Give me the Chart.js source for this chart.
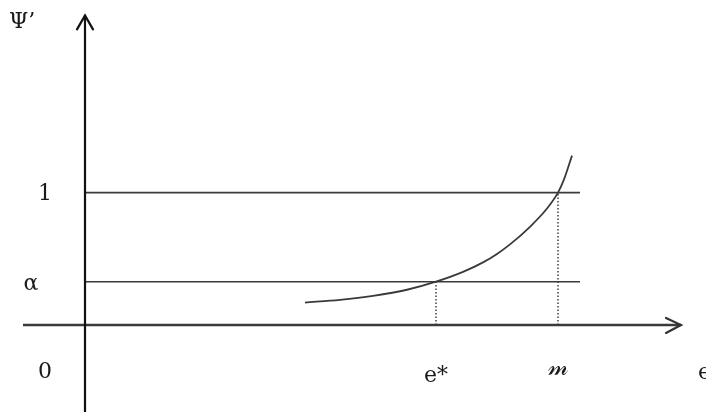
<!DOCTYPE html>
<html>
<head>
<meta charset="utf-8">
<script src="https://cdn.jsdelivr.net/npm/chart.js@4"></script>
<style>
html,body{margin:0;padding:0;background:#fff;}
#wrap{width:706px;height:412px;position:relative;}
</style>
</head>
<body>
<div id="wrap"><canvas id="c" width="706" height="412"></canvas></div>
<script>
// ---- data ----
const alphaLevel = 0.327;          // value of α on the ψ' axis
const oneLevel = 1;                // value 1 on the ψ' axis
const eStar = 3.51;                // e*
const mBar = 4.73;                 // 𝓂
const curveX = [2.20, 2.55, 2.88, 3.22, 3.51, 3.78, 3.98, 4.12, 4.25, 4.45, 4.62, 4.73, 4.79, 4.87];
const curveY = [0.169, 0.190, 0.220, 0.266, 0.327, 0.401, 0.473, 0.537, 0.609, 0.742, 0.880, 1.000, 1.100, 1.280];
const yTickLabels = ['0', 'α', '1'];
const xTickLabels = ['e*', '𝓂'];
const yAxisTitle = 'Ψ’';
const xAxisTitle = 'e';
const hLineEnd = 4.95;

const curve = curveX.map((x, i) => ({x, y: curveY[i]}));

const base = {showLine: true, pointRadius: 0, pointHoverRadius: 0, fill: false, tension: 0};

const labelsPlugin = {
  id: 'labels',
  afterDatasetsDraw(chart) {
    const {ctx, scales: {x, y}} = chart;
    const x0 = x.getPixelForValue(0), y0 = y.getPixelForValue(0);
    ctx.save();
    // arrowheads
    ctx.strokeStyle = '#111';
    ctx.lineWidth = 2.2;
    ctx.lineCap = 'round';
    const yTop = y.getPixelForValue(2.34);
    ctx.beginPath();
    ctx.moveTo(x0 - 8, yTop + 14); ctx.lineTo(x0, yTop); ctx.lineTo(x0 + 8, yTop + 14);
    ctx.stroke();
    ctx.strokeStyle = '#333';
    const xRight = x.getPixelForValue(5.96);
    ctx.beginPath();
    ctx.moveTo(xRight - 15, y0 - 7); ctx.lineTo(xRight, y0); ctx.lineTo(xRight - 15, y0 + 8);
    ctx.stroke();

    // text
    ctx.fillStyle = '#1a1a1a';
    ctx.font = '22px "DejaVu Serif"';
    ctx.textAlign = 'center';
    ctx.textBaseline = 'middle';
    ctx.fillText(yTickLabels[2], 45, y.getPixelForValue(oneLevel) + 2);
    ctx.fillText(yTickLabels[1], 31, y.getPixelForValue(alphaLevel) + 3);
    ctx.fillText(yTickLabels[0], 45, y0 + 47);
    ctx.fillText(xTickLabels[0], x.getPixelForValue(eStar), y0 + 51);
    ctx.font = '24px "DejaVu Serif"';
    ctx.fillText(xTickLabels[1], x.getPixelForValue(mBar), y0 + 44);
    ctx.font = '22px "DejaVu Serif"';
    ctx.textAlign = 'left';
    ctx.fillText(xAxisTitle, 698, y0 + 48);
    ctx.fillText(yAxisTitle, 9, 22);
    ctx.restore();
  }
};

new Chart(document.getElementById('c'), {
  type: 'scatter',
  data: {
    datasets: [
      {...base, data: [{x: 0, y: -0.7}, {x: 0, y: 2.34}], borderColor: '#111', borderWidth: 2.2},
      {...base, data: [{x: -0.62, y: 0}, {x: 5.96, y: 0}], borderColor: '#3a3a3a', borderWidth: 2.6},
      {...base, data: [{x: 0, y: oneLevel}, {x: hLineEnd, y: oneLevel}], borderColor: '#3a3a3a', borderWidth: 1.6},
      {...base, data: [{x: 0, y: alphaLevel}, {x: hLineEnd, y: alphaLevel}], borderColor: '#3a3a3a', borderWidth: 1.6},
      {...base, data: [{x: eStar, y: 0}, {x: eStar, y: alphaLevel}], borderColor: '#333', borderWidth: 1.4, borderDash: [1.5, 2]},
      {...base, data: [{x: mBar, y: 0}, {x: mBar, y: oneLevel}], borderColor: '#333', borderWidth: 1.4, borderDash: [1.5, 2]},
      {...base, data: curve, borderColor: '#3a3a3a', borderWidth: 1.8, cubicInterpolationMode: 'monotone'}
    ]
  },
  options: {
    responsive: false,
    animation: false,
    events: [],
    layout: {padding: 0},
    plugins: {legend: {display: false}, tooltip: {enabled: false}},
    scales: {
      x: {type: 'linear', display: false, min: -0.85, max: 6.21},
      y: {type: 'linear', display: false, min: -0.658, max: 2.456}
    }
  },
  plugins: [labelsPlugin]
});
</script>
</body>
</html>
